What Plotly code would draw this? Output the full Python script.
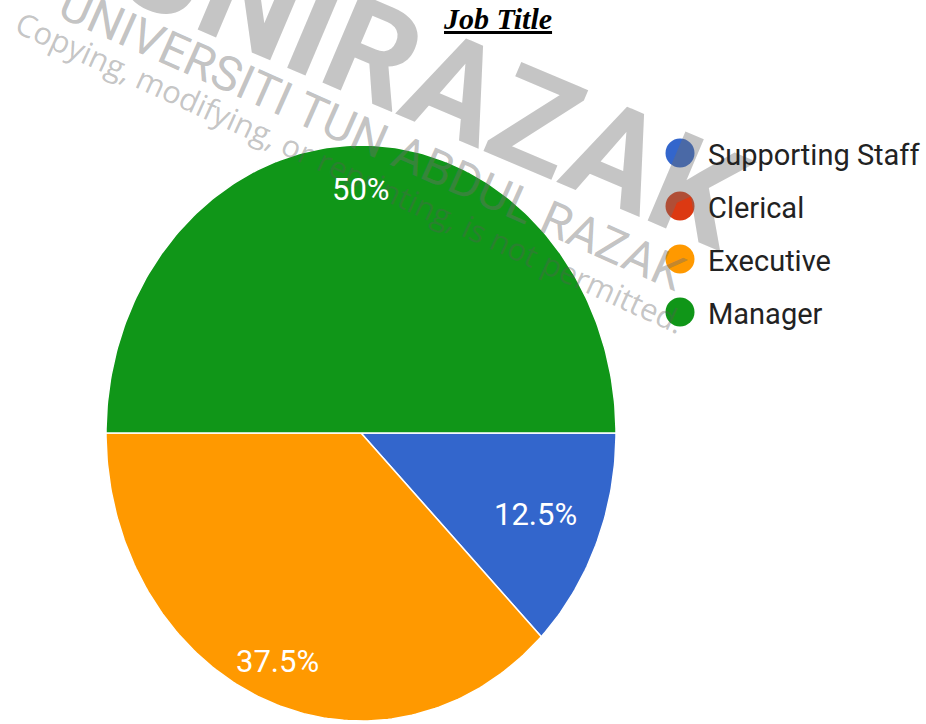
import numpy as np
import plotly.graph_objects as go

# ---- data -------------------------------------------------------------
categories = ["Supporting Staff", "Clerical", "Executive", "Manager"]
shares = [12.5, 0.0, 37.5, 50.0]          # percent of respondents
colors = ["#3366CC", "#DC3912", "#FF9900", "#109618"]
title_text = "Job Title"

# ---- page geometry (pixels) --------------------------------------------
W, H = 926, 724
cx, cy = 361, 433          # pie centre
rx, ry = 255, 288          # pie is drawn slightly taller than wide
x_rng = (-1.05, 1.05)
y_rng = (-1.01, 1.05)


def px_x(p):
    return p / W


def px_y(p):
    return 1 - p / H


x_dom = [px_x(cx + x_rng[0] * rx), px_x(cx + x_rng[1] * rx)]
y_dom = [px_y(cy - y_rng[0] * ry), px_y(cy - y_rng[1] * ry)]
y_dom = [max(0.0, y_dom[0]), min(1.0, y_dom[1])]

fig = go.Figure()

# ---- pie slices: start at 3 o'clock and run clockwise ------------------
label_radius = {"Supporting Staff": 0.74, "Clerical": 0.8,
                "Executive": 0.86, "Manager": 0.845}
start = 0.0
mids = []
for name, val, col in zip(categories, shares, colors):
    sweep = 2 * np.pi * val / 100.0
    end = start - sweep
    mids.append((start + end) / 2)
    if val > 0:
        t = np.linspace(start, end, max(3, int(400 * val / 100)))
        xs = np.concatenate([[0], np.cos(t), [0]])
        ys = np.concatenate([[0], np.sin(t), [0]])
        fig.add_trace(go.Scatter(
            x=xs, y=ys, mode="lines", fill="toself",
            fillcolor=col, line=dict(color="white", width=1.5),
            name=name, hoverinfo="name", showlegend=False,
        ))
    start = end

annotations = []

# ---- watermark -----------------------------------------------------------
annotations.append(dict(
    text="<b>UNIRAZAK</b>", x=px_x(432), y=px_y(78), xref="paper", yref="paper",
    showarrow=False, textangle=23, xanchor="center", yanchor="middle",
    font=dict(family="Roboto", size=136, color="rgba(110,110,110,0.40)"),
))
annotations.append(dict(
    text="UNIVERSITI TUN ABDUL RAZAK", x=px_x(372), y=px_y(138),
    xref="paper", yref="paper", showarrow=False, textangle=24,
    xanchor="center", yanchor="middle",
    font=dict(family="Roboto", size=48, color="rgba(110,110,110,0.42)"),
))
annotations.append(dict(
    text="Copying, modifying, or reprinting, is not permitted.",
    x=px_x(350), y=px_y(172), xref="paper", yref="paper",
    showarrow=False, textangle=24.5, xanchor="center", yanchor="middle",
    font=dict(family="Open Sans", size=31, color="rgba(90,90,90,0.36)"),
))

# ---- percentage labels inside slices -----------------------------------
for name, val, mid in zip(categories, shares, mids):
    if val <= 0:
        continue
    r = label_radius[name]
    annotations.append(dict(
        text=f"{val:g}%", x=r * np.cos(mid), y=r * np.sin(mid),
        xref="x", yref="y", showarrow=False,
        xanchor="center", yanchor="middle",
        font=dict(family="Roboto", size=31, color="white"),
    ))

# ---- legend (round markers) ------------------------------------------------
shapes = []
leg_x, leg_y0, leg_dy, dot = 680, 153, 53, 29
for i, (name, col) in enumerate(zip(categories, colors)):
    yc = leg_y0 + i * leg_dy
    shapes.append(dict(
        type="circle", xref="paper", yref="paper",
        x0=px_x(leg_x - dot / 2), x1=px_x(leg_x + dot / 2),
        y0=px_y(yc + dot / 2), y1=px_y(yc - dot / 2),
        fillcolor=col, line=dict(width=0), layer="above",
    ))
    annotations.append(dict(
        text=name, x=px_x(706), y=px_y(yc + 2), xref="paper", yref="paper",
        showarrow=False, xanchor="left", yanchor="middle",
        font=dict(family="Roboto", size=29, color="#222222"),
    ))

# ---- title -------------------------------------------------------------------
annotations.append(dict(
    text=f"<b><i><u>{title_text}</u></i></b>", x=px_x(498), y=1.0,
    xref="paper", yref="paper", showarrow=False,
    xanchor="center", yanchor="top",
    font=dict(family="Liberation Serif", size=30, color="black"),
))

fig.update_layout(
    width=W, height=H, autosize=False,
    margin=dict(l=0, r=0, t=0, b=0),
    paper_bgcolor="white", plot_bgcolor="white",
    xaxis=dict(range=list(x_rng), domain=x_dom, visible=False, fixedrange=True),
    yaxis=dict(range=list(y_rng), domain=y_dom, visible=False, fixedrange=True),
    annotations=annotations, shapes=shapes, showlegend=False,
)

fig.write_html("out.html")
